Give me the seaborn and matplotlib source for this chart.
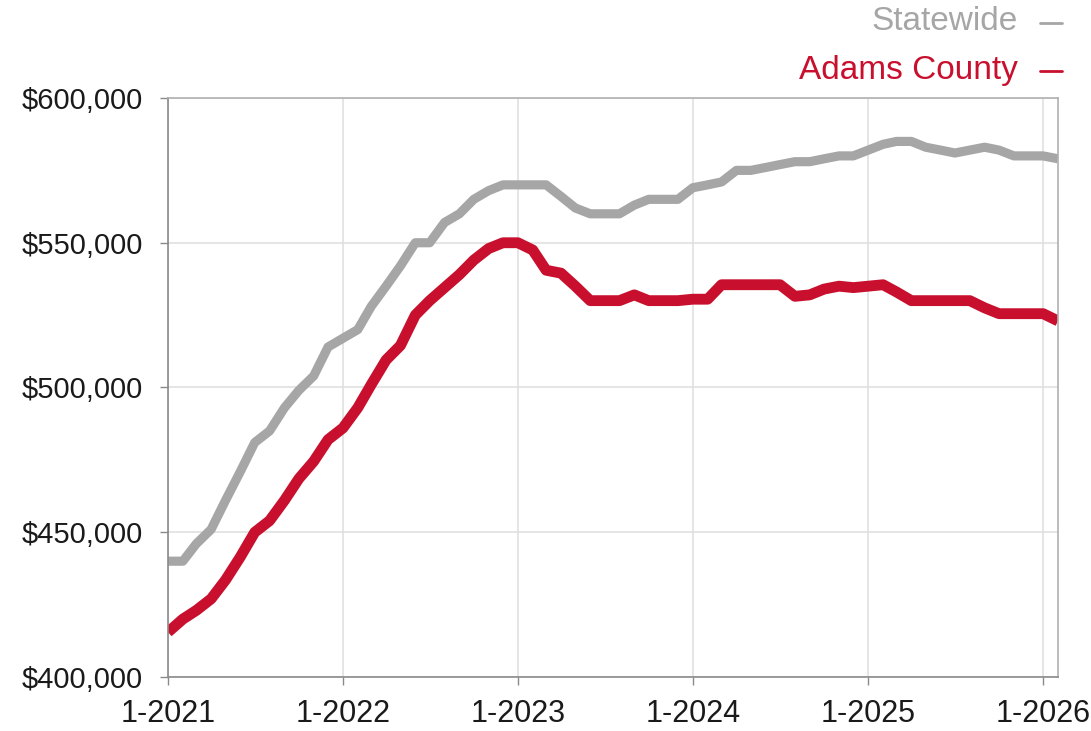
import matplotlib
matplotlib.use("Agg")
import matplotlib.pyplot as plt
import matplotlib.ticker as mticker
from matplotlib.lines import Line2D
import seaborn as sns
import pandas as pd

# ---- data (values in $1,000s) ----
months = pd.date_range("2021-01-01", periods=62, freq="MS")
statewide = [440, 440, 446, 451, 461, 471, 481, 485, 493, 499, 504, 514,
             517, 520, 528, 535, 542, 550, 550, 557, 560, 565, 568, 570,
             570, 570, 570, 566, 562, 560, 560, 560, 563, 565, 565, 565,
             569, 570, 571, 575, 575, 576, 577, 578, 578, 579, 580, 580,
             582, 584, 585, 585, 583, 582, 581, 582, 583, 582, 580, 580,
             580, 579]
adams = [415.5, 420, 423, 427, 433.5, 441.5, 450, 454, 461, 468.5, 474.5, 482,
         486, 493, 501, 509.5, 514.5, 525, 530, 534.5, 539, 544, 548, 550,
         550, 547.5, 540.5, 539.5, 535, 530, 530, 530, 532, 530, 530, 530,
         530.5, 530.5, 535.5, 535.5, 535.5, 535.5, 535.5, 531.5, 532, 534, 535, 534.5,
         535, 535.5, 533, 530, 530, 530, 530, 530, 527.5, 525.5, 525.5, 525.5,
         525.5, 523]
series_names = ["Statewide", "Adams County"]
series_colors = {"Statewide": "#a6a6a6", "Adams County": "#c8102e"}
year_ticks = pd.date_range("2021-01-01", periods=6, freq="12MS")
year_labels = ["1-2021", "1-2022", "1-2023", "1-2024", "1-2025", "1-2026"]
y_ticks = [400000, 450000, 500000, 550000, 600000]

df = pd.DataFrame({
    "month": list(months) * 2,
    "value": [v * 1000 for v in statewide] + [v * 1000 for v in adams],
    "series": ["Statewide"] * len(statewide) + ["Adams County"] * len(adams),
})

sns.set_theme(style="white")
plt.rcParams["font.family"] = ["Liberation Sans", "DejaVu Sans"]

fig = plt.figure(figsize=(10.91, 7.31), dpi=100)
ax = fig.add_axes([168 / 1091, 1 - 677 / 731, (1058 - 168) / 1091, (677 - 98) / 731])

sns.lineplot(data=df[df.series == "Statewide"], x="month", y="value", color=series_colors["Statewide"],
             linewidth=6.6, ax=ax, legend=False, solid_joinstyle="round", solid_capstyle="butt")
sns.lineplot(data=df[df.series == "Adams County"], x="month", y="value", color=series_colors["Adams County"],
             linewidth=7.8, ax=ax, legend=False, solid_joinstyle="round", solid_capstyle="butt")

ax.set_xlim(months[0], months[-1])
ax.set_ylim(400000, 600000)
ax.set_xticks(year_ticks)
ax.set_xticklabels(year_labels)
ax.set_yticks(y_ticks)
ax.yaxis.set_major_formatter(mticker.FuncFormatter(lambda v, p: f"${v:,.0f}"))
ax.set_xlabel("")
ax.set_ylabel("")

ax.grid(True, color="#e0e0e0", linewidth=1.2)
ax.set_axisbelow(True)
for s in ax.spines.values():
    s.set_visible(True)
    s.set_color("#8a8a8a")
    s.set_linewidth(1.2)
ax.spines["top"].set_color("#b0b0b0")
ax.spines["right"].set_color("#b0b0b0")

ax.tick_params(axis="both", which="major", length=6, width=1.0, color="#8a8a8a",
               labelcolor="#1a1a1a", direction="out")
ax.tick_params(axis="x", pad=10, labelsize=22)
ax.tick_params(axis="y", pad=12, labelsize=21)
ax.xaxis.set_ticks_position("bottom")
ax.yaxis.set_ticks_position("left")

# legend-like labels at top right
for name, yc in zip(series_names, [22, 70]):
    fig.text(1018 / 1091, 1 - yc / 731, name, color=series_colors[name],
             fontsize=24, ha="right", va="center")
    fig.add_artist(Line2D([1040 / 1091, 1062 / 1091], [1 - (yc + 1) / 731] * 2,
                          transform=fig.transFigure, color=series_colors[name], linewidth=2))

fig.savefig("out.png", dpi=100)
